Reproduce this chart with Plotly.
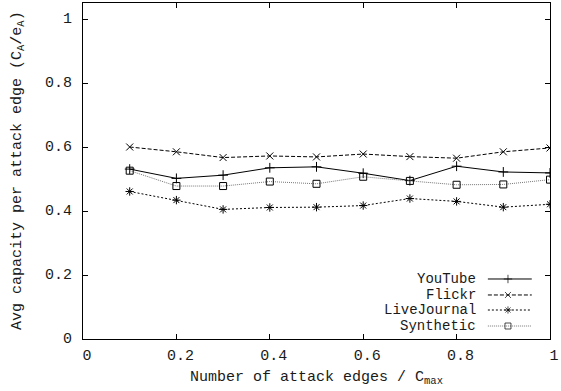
import plotly.graph_objects as go

# ---- data ----
x_vals = [0.1, 0.2, 0.3, 0.4, 0.5, 0.6, 0.7, 0.8, 0.9, 1.0]
youtube = [0.531, 0.502, 0.512, 0.535, 0.538, 0.518, 0.495, 0.540, 0.522, 0.519]
flickr = [0.600, 0.585, 0.567, 0.572, 0.569, 0.578, 0.570, 0.565, 0.585, 0.597]
livejournal = [0.461, 0.434, 0.405, 0.411, 0.412, 0.417, 0.439, 0.430, 0.412, 0.421]
synthetic = [0.526, 0.478, 0.478, 0.492, 0.485, 0.507, 0.494, 0.482, 0.483, 0.498]
names = ["YouTube", "Flickr", "LiveJournal", "Synthetic"]
x_ticks = [0, 0.2, 0.4, 0.6, 0.8, 1]
x_tick_text = ["0", "0.2", "0.4", "0.6", "0.8", "1"]
y_ticks = [0, 0.2, 0.4, 0.6, 0.8, 1]
y_tick_text = ["0", "0.2", "0.4", "0.6", "0.8", "1"]
x_title = "Number of attack edges / C<sub>max</sub>"
y_title = "Avg capacity per attack edge (C<sub>A</sub>/e<sub>A</sub>)"

FONT = "Liberation Mono, Courier New, monospace"
FS = 15
TXT = "#1a1a1a"

styles = [
    dict(line=dict(color="black", width=1, dash="solid"), symbol="cross-thin-open", mcolor="black"),
    dict(line=dict(color="black", width=1, dash="4px,2px"), symbol="x-thin-open", mcolor="black"),
    dict(line=dict(color="black", width=1, dash="2px,2px"), symbol="asterisk-open", mcolor="black"),
    dict(line=dict(color="#777777", width=1, dash="1px,1px"), symbol="square-open", mcolor="black"),
]
data = [youtube, flickr, livejournal, synthetic]
MSIZE = 7

fig = go.Figure()
for name, vals, st in zip(names, data, styles):
    fig.add_trace(go.Scatter(
        x=x_vals, y=vals, mode="lines+markers", name=name,
        line=st["line"],
        marker=dict(symbol=st["symbol"], size=MSIZE, color=st["mcolor"],
                    line=dict(color=st["mcolor"], width=1)),
        showlegend=False,
    ))

# ---- custom key (text then sample, like gnuplot) ----
key_text_x = 0.844
key_line = [0.867, 0.910, 0.961]
key_rows = [0.1786, 0.131, 0.0863, 0.0387]
for name, st, ry in zip(names, styles, key_rows):
    fig.add_trace(go.Scatter(
        x=key_line, y=[ry] * 3, xaxis="x2", yaxis="y2",
        mode="lines+markers", line=st["line"],
        marker=dict(symbol=st["symbol"], size=[0, MSIZE - 1, 0], color=st["mcolor"],
                    line=dict(color=st["mcolor"], width=1)),
        showlegend=False, hoverinfo="skip",
    ))
    fig.add_annotation(x=key_text_x, y=ry, xref="paper", yref="paper",
                       text=name, showarrow=False, xanchor="right", yanchor="middle",
                       borderpad=0, font=dict(family=FONT, size=FS - 1, color=TXT))

# ---- y tick labels and y title as text placed through the y axis ----
for v, t in zip(y_ticks, y_tick_text):
    fig.add_annotation(x=0, y=v, xref="paper", yref="y", text=t, showarrow=False,
                       xanchor="right", yanchor="middle", xshift=-10, borderpad=0,
                       font=dict(family=FONT, size=FS, color=TXT))
fig.add_annotation(x=0, y=0.5, xref="paper", yref="paper", text=y_title,
                   showarrow=False, textangle=-90, xanchor="center", yanchor="middle",
                   xshift=-65, borderpad=0, font=dict(family=FONT, size=FS, color=TXT))

axis_common = dict(showgrid=False, zeroline=False, showline=True, linecolor="black",
                   linewidth=1, mirror="ticks", ticks="inside", ticklen=5,
                   tickcolor="black", tickfont=dict(family=FONT, size=FS, color=TXT))

fig.update_layout(
    width=561, height=391,
    margin=dict(l=83, r=11, t=3, b=52),
    paper_bgcolor="white", plot_bgcolor="white",
    font=dict(family=FONT, size=FS, color=TXT),
    xaxis=dict(range=[0, 1], tickvals=x_ticks, ticktext=x_tick_text,
               ticklabelstandoff=2, ticklabelshift=4,
               title=dict(text=x_title, standoff=6,
                          font=dict(family=FONT, size=FS, color=TXT)),
               **axis_common),
    yaxis=dict(range=[0, 1.05], tickvals=y_ticks, showticklabels=False,
               **axis_common),
    xaxis2=dict(range=[0, 1], overlaying="x", visible=False, anchor="y2"),
    yaxis2=dict(range=[0, 1], overlaying="y", visible=False, anchor="x2"),
)

fig.write_html("out.html")
